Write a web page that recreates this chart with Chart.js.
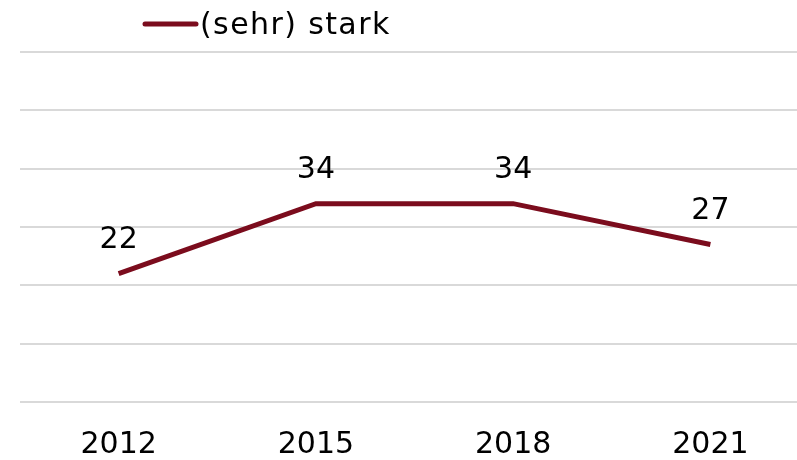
<!DOCTYPE html>
<html>
<head>
<meta charset="utf-8">
<script src="https://cdn.jsdelivr.net/npm/chart.js@4/dist/chart.umd.min.js"></script>
<style>
  html, body { margin: 0; padding: 0; background: #fff; overflow: hidden; }
  #wrap { width: 809px; height: 460px; }
</style>
</head>
<body>
<div id="wrap"><canvas id="chart" width="809" height="460"></canvas></div>
<script>
const years = ['2012', '2015', '2018', '2021'];
const stark = [22, 34, 34, 27];
const seriesLabel = '(sehr) stark';
const lineColor = '#7b0c1d';
const fontFamily = '"DejaVu Sans", Verdana, sans-serif';

// value labels above each point
const valueLabels = {
    id: 'valueLabels',
    afterDatasetsDraw(chart) {
        const ctx = chart.ctx;
        const meta = chart.getDatasetMeta(0);
        ctx.save();
        ctx.font = '30px ' + fontFamily;
        ctx.fillStyle = '#000';
        ctx.textAlign = 'center';
        ctx.textBaseline = 'middle';
        meta.data.forEach((pt, i) => {
            ctx.fillText(stark[i], pt.x, pt.y - 33);
        });
        ctx.restore();
    }
};

// legend drawn by hand so it sits where the original has it
const legendLine = {
    id: 'legendLine',
    afterDraw(chart) {
        const ctx = chart.ctx;
        ctx.save();
        ctx.strokeStyle = lineColor;
        ctx.lineWidth = 5;
        ctx.lineCap = 'round';
        ctx.beginPath();
        ctx.moveTo(145, 24);
        ctx.lineTo(196, 24);
        ctx.stroke();
        ctx.font = '30px ' + fontFamily;
        ctx.letterSpacing = '1.4px';
        ctx.fillStyle = '#000';
        ctx.textAlign = 'left';
        ctx.textBaseline = 'middle';
        ctx.fillText(chart.data.datasets[0].label, 200, 26);
        ctx.restore();
    }
};

new Chart(document.getElementById('chart'), {
    type: 'line',
    data: {
        labels: years,
        datasets: [{
            label: seriesLabel,
            data: stark,
            borderColor: lineColor,
            backgroundColor: lineColor,
            borderWidth: 5,
            pointRadius: 0,
            tension: 0
        }]
    },
    options: {
        responsive: false,
        animation: false,
        layout: { padding: { left: 20, right: 0, top: 52, bottom: 0 } },
        plugins: {
            legend: { display: false },
            tooltip: { enabled: false }
        },
        scales: {
            x: {
                offset: true,
                grid: { display: false, drawTicks: false },
                border: { display: false },
                ticks: {
                    color: '#000',
                    font: { family: fontFamily, size: 30 },
                    padding: 25,
                    maxRotation: 0
                },
                afterFit(scale) { scale.height = 58; }
            },
            y: {
                min: 0,
                max: 60,
                grid: { color: '#d9d9d9', lineWidth: 2, drawTicks: false },
                border: { display: false },
                ticks: { display: false, stepSize: 10 }
            }
        }
    },
    plugins: [valueLabels, legendLine]
});
</script>
</body>
</html>
